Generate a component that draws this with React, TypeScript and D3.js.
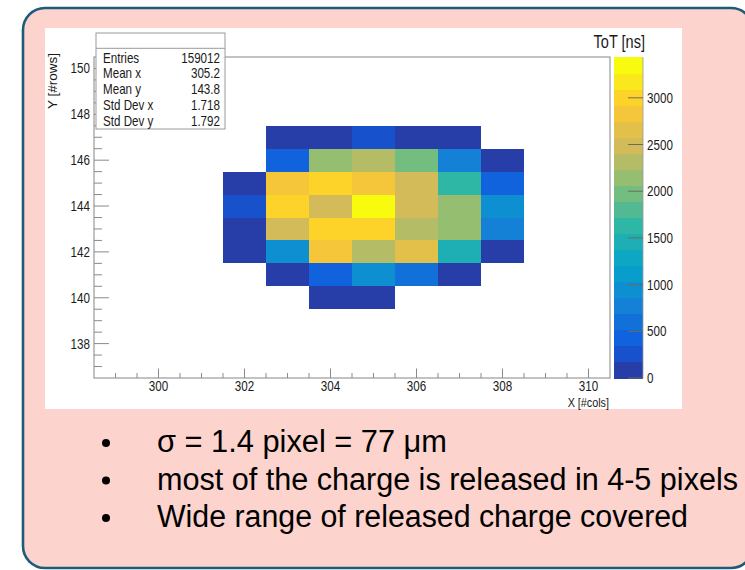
import * as d3 from "d3";

// pixel grid of the cluster
const cols = [302, 303, 304, 305, 306, 307, 308];
const rows = [147, 146, 145, 144, 143, 142, 141, 140];

// ToT per pixel [ns], one list per row (same order as rows), null = no hit
const row147 = [null, 90, 120, 250, 100, 70, null];
const row146 = [null, 430, 2150, 2320, 1980, 780, 110];
const row145 = [60, 2840, 3010, 2870, 2500, 1640, 400];
const row144 = [270, 2990, 2480, 3437, 2510, 2130, 950];
const row143 = [140, 2460, 3030, 2980, 2350, 2170, 760];
const row142 = [80, 930, 2830, 2300, 2660, 1460, 130];
const row141 = [null, 100, 420, 960, 600, 90, null];
const row140 = [null, null, 50, 70, null, null, null];
const totRows = [row147, row146, row145, row144, row143, row142, row141, row140];

const xTicks = [300, 302, 304, 306, 308, 310];
const yTicks = [138, 140, 142, 144, 146, 148, 150];
const zTicks = [0, 500, 1000, 1500, 2000, 2500, 3000];

const statLabels = ["Entries", "Mean x", "Mean y", "Std Dev x", "Std Dev y"];
const statValues = ["159012", "305.2", "143.8", "1.718", "1.792"];

const bullets = [
  "σ = 1.4 pixel = 77 μm",
  "most of the charge is released in 4-5 pixels",
  "Wide range of released charge covered",
];

// ROOT kBird palette
const birdStops = [0.0, 0.125, 0.25, 0.375, 0.5, 0.625, 0.75, 0.875, 1.0];
const birdRed = [0.2082, 0.0592, 0.078, 0.0232, 0.1802, 0.5301, 0.8186, 0.9956, 0.9764];
const birdGreen = [0.1664, 0.3599, 0.5041, 0.6419, 0.7178, 0.7492, 0.7328, 0.7862, 0.9832];
const birdBlue = [0.5293, 0.8684, 0.8385, 0.7914, 0.6425, 0.4662, 0.3499, 0.1968, 0.0539];

const nLevels = 20;
const font = "'Liberation Sans', Arial, sans-serif";
const sx = 0.83; // the screenshot is squeezed horizontally

const Txt = ({ x, y, size, anchor = "start", children }: any) => (
  <text
    transform={`translate(${x},${y}) scale(${sx},1)`}
    fontSize={size}
    textAnchor={anchor}
    fontFamily={font}
    fill="#1a1a1a"
  >
    {children}
  </text>
);

export default function App() {
  const frame = { left: 94, right: 610, top: 57, bottom: 378 };

  const x = d3.scaleLinear().domain([298.5, 310.5]).range([frame.left, frame.right]);
  const y = d3.scaleLinear().domain([136.5, 150.5]).range([frame.bottom, frame.top]);

  const zmax = d3.max(totRows.flat().filter((v) => v != null) as number[]) as number;
  const level = d3.scaleQuantize<number>().domain([0, zmax]).range(d3.range(nLevels));
  const bird = d3
    .scaleLinear<string>()
    .domain(birdStops)
    .range(birdStops.map((_, i) => d3.rgb(birdRed[i] * 255, birdGreen[i] * 255, birdBlue[i] * 255).toString()))
    .interpolate(d3.interpolateRgb);
  const levelColor = (k: number) => bird(Math.floor(((k + 0.99) * 255) / nLevels) / 254);

  const bar = { left: 614, right: 643 };
  const z = d3.scaleLinear().domain([0, zmax]).range([frame.bottom, frame.top]);

  const cells: any[] = [];
  rows.forEach((r, i) =>
    cols.forEach((c, j) => {
      const v = totRows[i][j];
      if (v != null) cells.push({ r, c, v });
    })
  );

  const xMinor = d3.range(299, 310.5, 0.5);
  const yMinor = d3.range(137, 150.5, 0.5);

  return (
    <svg width={745} height={570} style={{ position: "absolute", left: 0, top: 0 }}>
      <rect x={0} y={0} width={745} height={570} fill="#fff" />
      <rect x={23} y={8} width={730} height={560} rx={22} fill="#fdd3cd" stroke="#1d5c78" strokeWidth={2.6} />
      <rect x={45} y={28} width={637} height={381} fill="#fff" />

      {/* cells */}
      <g shapeRendering="crispEdges">
        {cells.map((d, i) => (
          <rect
            key={i}
            x={x(d.c - 0.5)}
            y={y(d.r + 0.5)}
            width={x(d.c + 0.5) - x(d.c - 0.5)}
            height={y(d.r - 0.5) - y(d.r + 0.5)}
            fill={levelColor(level(d.v))}
          />
        ))}
      </g>

      {/* frame */}
      <rect
        x={frame.left}
        y={frame.top}
        width={frame.right - frame.left}
        height={frame.bottom - frame.top}
        fill="none"
        stroke="#9a9a9a"
        strokeWidth={1.2}
      />

      {/* axis ticks */}
      <g stroke="#8a8a8a" strokeWidth={1}>
        {xMinor.map((t) => (
          <line key={t} x1={x(t)} x2={x(t)} y1={frame.bottom} y2={frame.bottom - (t % 2 === 0 ? 9.5 : 5)} />
        ))}
        {yMinor.map((t) => (
          <line key={t} y1={y(t)} y2={y(t)} x1={frame.left} x2={frame.left + (t % 2 === 0 ? 15 : 8)} />
        ))}
      </g>
      {xTicks.map((t) => (
        <Txt key={t} x={x(t)} y={391} size={14} anchor="middle">
          {t}
        </Txt>
      ))}
      {yTicks.map((t) => (
        <Txt key={t} x={90} y={y(t) + 5} size={14} anchor="end">
          {t}
        </Txt>
      ))}
      <Txt x={609} y={407} size={13} anchor="end">
        X [#cols]
      </Txt>
      <text
        transform="translate(57,53) rotate(-90)"
        fontSize={13.5}
        textAnchor="end"
        fontFamily={font}
        fill="#1a1a1a"
      >
        Y [#rows]
      </text>

      {/* colour bar */}
      <g shapeRendering="crispEdges">
        {d3.range(nLevels).map((k) => (
          <rect
            key={k}
            x={bar.left}
            width={bar.right - bar.left}
            y={z(((k + 1) * zmax) / nLevels)}
            height={z((k * zmax) / nLevels) - z(((k + 1) * zmax) / nLevels) + 0.5}
            fill={levelColor(k)}
          />
        ))}
      </g>
      <line x1={bar.right} x2={bar.right} y1={frame.top} y2={frame.bottom} stroke="#9a9a9a" strokeWidth={0.8} />
      {zTicks.map((t) => (
        <g key={t}>
          <line x1={bar.right - 15} x2={bar.right} y1={z(t)} y2={z(t)} stroke="#6d6d5a" strokeWidth={1} />
          <Txt x={647} y={z(t) + 5} size={14}>
            {t}
          </Txt>
        </g>
      ))}
      <Txt x={645} y={47.5} size={17.5} anchor="end">
        ToT [ns]
      </Txt>

      {/* stats box */}
      <rect x={96} y={33} width={129} height={96} fill="#fff" stroke="#9a9a9a" strokeWidth={1} />
      <line x1={96} x2={225} y1={48.3} y2={48.3} stroke="#9a9a9a" strokeWidth={1} />
      {statLabels.map((s, i) => (
        <g key={s}>
          <Txt x={103} y={62.5 + i * 15.8} size={14}>
            {s}
          </Txt>
          <Txt x={220} y={62.5 + i * 15.8} size={14} anchor="end">
            {statValues[i]}
          </Txt>
        </g>
      ))}

      {/* bullets */}
      {bullets.map((b, i) => (
        <g key={b} fontFamily={font} fill="#000">
          <circle cx={106} cy={443 + i * 37.5} r={4} />
          <text
            x={157}
            y={452 + i * 37.5}
            fontSize={31}
            textLength={[290, 581, 531][i]}
            lengthAdjust="spacingAndGlyphs"
          >
            {b}
          </text>
        </g>
      ))}
    </svg>
  );
}
